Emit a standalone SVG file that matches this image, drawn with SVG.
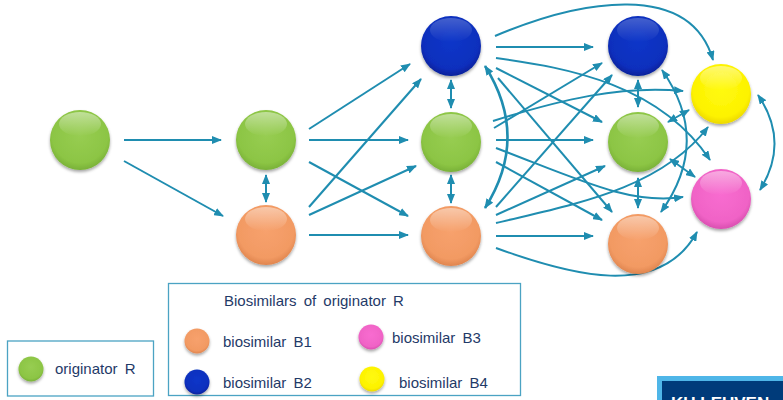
<svg xmlns="http://www.w3.org/2000/svg" width="783" height="400" viewBox="0 0 783 400">
<style>
.c{fill:none;stroke:#1f8db0;stroke-width:2}
.e{marker-end:url(#ah)}
.d{marker-start:url(#ah);marker-end:url(#ah)}
.t{font-family:"Liberation Sans",Arial,sans-serif;font-size:15px;fill:#1f3a68}
.box{fill:#fff;stroke:#4ba3c3;stroke-width:1.3}
.hl{fill:url(#hl)}
</style>
<defs>
<marker id="ah" viewBox="0 0 10 8" refX="9" refY="4" markerWidth="10" markerHeight="8" markerUnits="userSpaceOnUse" orient="auto-start-reverse">
<path d="M0,0 L10,4 L0,8 z" fill="#1f8db0"/>
</marker>
<filter id="sh" x="-30%" y="-30%" width="160%" height="170%">
<feDropShadow dx="0" dy="2" stdDeviation="1.8" flood-color="#000" flood-opacity="0.35"/>
</filter>
<radialGradient id="gG" cx="50%" cy="42%" r="58%"><stop offset="0" stop-color="#97cd52"/><stop offset="0.8" stop-color="#8cc544"/><stop offset="1" stop-color="#79b138"/></radialGradient>
<radialGradient id="gO" cx="50%" cy="42%" r="58%"><stop offset="0" stop-color="#f7a16d"/><stop offset="0.8" stop-color="#f29a63"/><stop offset="1" stop-color="#e0854e"/></radialGradient>
<radialGradient id="gB" cx="50%" cy="42%" r="58%"><stop offset="0" stop-color="#0c36c9"/><stop offset="0.8" stop-color="#0a2fbd"/><stop offset="1" stop-color="#06209a"/></radialGradient>
<radialGradient id="gY" cx="50%" cy="42%" r="58%"><stop offset="0" stop-color="#fffa10"/><stop offset="0.8" stop-color="#fdf200"/><stop offset="1" stop-color="#ecd800"/></radialGradient>
<radialGradient id="gP" cx="50%" cy="42%" r="58%"><stop offset="0" stop-color="#f86cd0"/><stop offset="0.8" stop-color="#f063c6"/><stop offset="1" stop-color="#d94fb0"/></radialGradient>
<linearGradient id="hl" x1="0" y1="0" x2="0" y2="1"><stop offset="0" stop-color="#fff" stop-opacity="0.45"/><stop offset="1" stop-color="#fff" stop-opacity="0"/></linearGradient>
</defs>
<rect width="783" height="400" fill="#fff"/>

<g id="connectors">
<path class="c e" d="M124,140 L221,140"/>
<path class="c e" d="M124,161 L223,216"/>
<path class="c d" d="M266,175 L266,202"/>
<path class="c e" d="M309,129 L410,64"/>
<path class="c e" d="M309,140 L408,140"/>
<path class="c e" d="M309,162 L408,216"/>
<path class="c e" d="M309,207 L421,79"/>
<path class="c e" d="M309,215 L416,166"/>
<path class="c e" d="M309,235 L408,235"/>
<path class="c d" d="M451,80 L451,108"/>
<path class="c d" d="M451,175 L451,203"/>
<path class="c e" d="M496,47 L593,47"/>
<path class="c e" d="M496,68 L602,122"/>
<path class="c e" d="M498,78 L612,212"/>
<path class="c e" d="M494,128 L602,63"/>
<path class="c e" d="M496,140 L593,140"/>
<path class="c e" d="M496,162 L602,220"/>
<path class="c e" d="M496,207 L612,75"/>
<path class="c e" d="M496,215 L605,166"/>
<path class="c e" d="M496,236 L593,236"/>
<path class="c e" d="M495,36 C580,0 690,-20 713,60"/>
<path class="c e" d="M496,58 C570,68 660,85 710,160"/>
<path class="c e" d="M493,121 C560,100 620,85 683,91"/>
<path class="c e" d="M496,148 C580,180 630,205 683,197"/>
<path class="c e" d="M496,223 C570,205 660,190 708,127"/>
<path class="c e" d="M496,248 C570,275 660,300 697,232"/>
<path class="c d" d="M485,66 Q530,137 485,208" style="stroke-width:2.6"/>
<path class="c d" d="M638,80 L638,107"/>
<path class="c d" d="M638,178 L638,208"/>
<path class="c d" d="M668,122 L689,110"/>
<path class="c d" d="M670,159 L695,177"/>
<path class="c d" d="M662,70 Q712,141 661,212"/>
<path class="c d" d="M758,95 Q790,142 760,190"/>
</g>

<g id="node-R"><circle cx="80" cy="140" r="30" fill="url(#gG)" filter="url(#sh)"/><ellipse class="hl" cx="80" cy="124" rx="21" ry="12"/></g>
<g id="node-G2"><circle cx="266" cy="140" r="30" fill="url(#gG)" filter="url(#sh)"/><ellipse class="hl" cx="266" cy="124" rx="21" ry="12"/></g>
<g id="node-O2"><circle cx="266" cy="235" r="30" fill="url(#gO)" filter="url(#sh)"/><ellipse class="hl" cx="266" cy="219" rx="21" ry="12"/></g>
<g id="node-B3"><circle cx="451" cy="46" r="30" fill="url(#gB)" filter="url(#sh)"/><ellipse class="hl" cx="451" cy="30" rx="21" ry="12" opacity="0.5"/></g>
<g id="node-G3"><circle cx="451" cy="142" r="30" fill="url(#gG)" filter="url(#sh)"/><ellipse class="hl" cx="451" cy="126" rx="21" ry="12"/></g>
<g id="node-O3"><circle cx="451" cy="236" r="30" fill="url(#gO)" filter="url(#sh)"/><ellipse class="hl" cx="451" cy="220" rx="21" ry="12"/></g>
<g id="node-B4"><circle cx="638" cy="46" r="30" fill="url(#gB)" filter="url(#sh)"/><ellipse class="hl" cx="638" cy="30" rx="21" ry="12" opacity="0.5"/></g>
<g id="node-G4"><circle cx="638" cy="142" r="30" fill="url(#gG)" filter="url(#sh)"/><ellipse class="hl" cx="638" cy="126" rx="21" ry="12"/></g>
<g id="node-O4"><circle cx="638" cy="244" r="30" fill="url(#gO)" filter="url(#sh)"/><ellipse class="hl" cx="638" cy="228" rx="21" ry="12"/></g>
<g id="node-Y"><circle cx="721" cy="94" r="30" fill="url(#gY)" filter="url(#sh)"/><ellipse class="hl" cx="721" cy="78" rx="21" ry="12"/></g>
<g id="node-P"><circle cx="721" cy="199" r="30" fill="url(#gP)" filter="url(#sh)"/><ellipse class="hl" cx="721" cy="183" rx="21" ry="12"/></g>

<g id="legend-originator">
<rect class="box" x="7.5" y="341" width="146" height="55"/>
<circle cx="31" cy="369" r="12.5" fill="url(#gG)" filter="url(#sh)"/>
<text class="t" x="55" y="374" style="word-spacing:3px">originator R</text>
</g>

<g id="legend-biosimilars">
<rect class="box" x="168.5" y="283.5" width="352" height="112"/>
<text class="t" x="224" y="306" style="word-spacing:3px">Biosimilars of originator R</text>
<circle cx="197" cy="341" r="12.5" fill="url(#gO)" filter="url(#sh)"/>
<text class="t" x="223" y="347" style="word-spacing:3px">biosimilar B1</text>
<circle cx="197" cy="382" r="12.5" fill="url(#gB)" filter="url(#sh)"/>
<text class="t" x="223" y="388" style="word-spacing:3px">biosimilar B2</text>
<circle cx="371" cy="337" r="12.5" fill="url(#gP)" filter="url(#sh)"/>
<text class="t" x="392" y="343" style="word-spacing:3px">biosimilar B3</text>
<circle cx="372" cy="379" r="12.5" fill="url(#gY)" filter="url(#sh)"/>
<text class="t" x="399" y="388" style="word-spacing:3px">biosimilar B4</text>
</g>

<g id="logo">
<rect x="657" y="376" width="130" height="30" fill="#4fb6e8"/>
<rect x="662" y="381" width="125" height="25" fill="#003b7a"/>
<text x="671" y="409" style="font-family:'Liberation Sans',Arial,sans-serif;font-weight:bold;font-size:17px;fill:#fff">KU LEUVEN</text>
</g>
</svg>
